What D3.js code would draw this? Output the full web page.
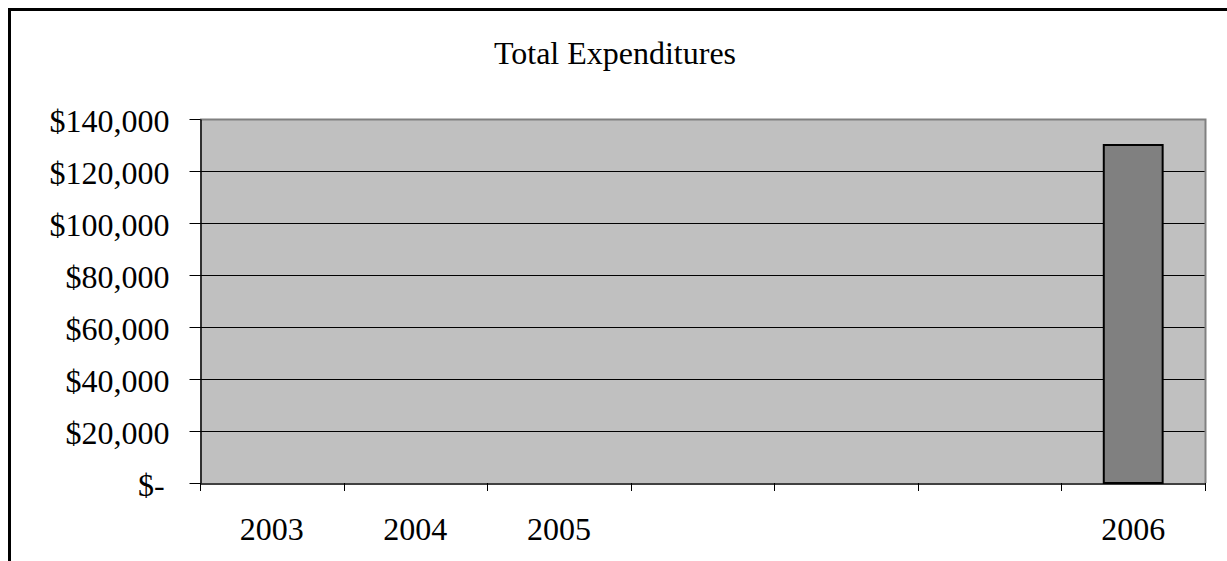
<!DOCTYPE html>
<html>
<head>
<meta charset="utf-8">
<script src="https://cdn.jsdelivr.net/npm/d3@7/dist/d3.min.js"></script>
<style>
  html, body { margin: 0; padding: 0; background: #fff; }
  svg { display: block; }
  text { font-family: "Liberation Serif", "Times New Roman", serif; fill: #000; }
</style>
</head>
<body>
<svg id="chart" width="1227" height="561"></svg>
<script>
// ---- data ----
const title = "Total Expenditures";
const categories = ["2003", "2004", "2005", "", "", "", "2006"];
const values = [0, 0, 0, 0, 0, 0, 130000];
const yTicks = [0, 20000, 40000, 60000, 80000, 100000, 120000, 140000];

// ---- layout ----
const W = 1227, H = 561;
const plot = { left: 200, top: 119, right: 1205, bottom: 483 };
const fontSize = 32;

const svg = d3.select("#chart");

// outer frame (extends past the right/bottom edge)
svg.append("rect")
  .attr("x", 9.5).attr("y", 9.5)
  .attr("width", W + 20).attr("height", H + 20)
  .attr("fill", "#fff").attr("stroke", "#000").attr("stroke-width", 3);

const idx = d3.range(categories.length);
const x = d3.scaleBand().domain(idx).range([plot.left, plot.right]).paddingInner(0).paddingOuter(0);
const y = d3.scaleLinear().domain([0, 140000]).range([plot.bottom, plot.top]);

// plot background
svg.append("rect")
  .attr("x", plot.left).attr("y", plot.top)
  .attr("width", plot.right - plot.left).attr("height", plot.bottom - plot.top)
  .attr("fill", "#C0C0C0");

// gridlines
svg.append("g").selectAll("line")
  .data(yTicks.filter(d => d > 0 && d < 140000))
  .join("line")
  .attr("x1", plot.left).attr("x2", plot.right)
  .attr("y1", d => Math.round(y(d)) + 0.5).attr("y2", d => Math.round(y(d)) + 0.5)
  .attr("stroke", "#000").attr("stroke-width", 1);

// plot border (top & right gray)
svg.append("path")
  .attr("d", `M${plot.left},${plot.top + 0.5}H${plot.right + 0.5}V${plot.bottom}`)
  .attr("fill", "none").attr("stroke", "#808080").attr("stroke-width", 2);

// bars
const barW = x.bandwidth() * 0.41;
svg.append("g").selectAll("rect")
  .data(idx.filter(i => values[i] > 0))
  .join("rect")
  .attr("x", i => x(i) + (x.bandwidth() - barW) / 2)
  .attr("y", i => y(values[i]))
  .attr("width", barW)
  .attr("height", i => y(0) - y(values[i]))
  .attr("fill", "#808080").attr("stroke", "#000").attr("stroke-width", 2);

// y axis
const yAxis = d3.axisLeft(y)
  .tickValues(yTicks)
  .tickSizeInner(11).tickSizeOuter(0).tickPadding(20)
  .tickFormat(d => d === 0 ? "$-" : "$" + d3.format(",")(d));
const gy = svg.append("g").attr("transform", `translate(${plot.left + 0.5},0)`).call(yAxis);
gy.select(".domain").attr("stroke", "#000").attr("stroke-width", 1.5);
gy.selectAll(".tick line").attr("stroke", "#000");
gy.selectAll("text").style("font-size", fontSize + "px").attr("font-family", null).attr("dy", "0.38em");
gy.selectAll(".tick text").filter(d => d === 0).attr("dx", "-0.15em");

// x axis
const xAxis = d3.axisBottom(x)
  .tickSize(0).tickPadding(34)
  .tickFormat(i => categories[i]);
const gx = svg.append("g").attr("transform", `translate(0,${plot.bottom + 0.5})`).call(xAxis);
gx.select(".domain").attr("stroke", "#000").attr("stroke-width", 1.5);
gx.selectAll("text").style("font-size", fontSize + "px").attr("font-family", null);

// category boundary ticks
const bounds = idx.map(i => x(i)).concat([plot.right]);
svg.append("g").selectAll("line")
  .data(bounds)
  .join("line")
  .attr("x1", d => Math.round(d) + 0.5).attr("x2", d => Math.round(d) + 0.5)
  .attr("y1", plot.bottom).attr("y2", plot.bottom + 8)
  .attr("stroke", "#000").attr("stroke-width", 1);

// title
svg.append("text")
  .attr("x", 615)
  .attr("y", 64)
  .attr("text-anchor", "middle")
  .style("font-size", fontSize + "px")
  .text(title);
</script>
</body>
</html>
